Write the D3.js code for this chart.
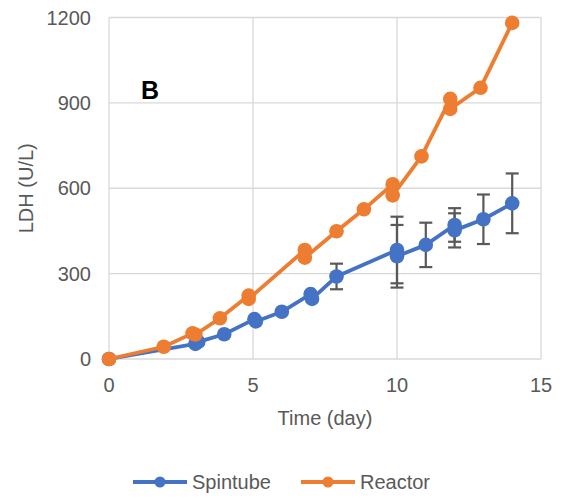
<!DOCTYPE html>
<html>
<head>
<meta charset="utf-8">
<script src="https://cdn.jsdelivr.net/npm/d3@7"></script>
<style>
  body { margin: 0; background: #fff; }
  text { font-family: "Liberation Sans", Arial, sans-serif; fill: #595959; }
</style>
</head>
<body>
<div id="chart"></div>
<script>
// data
const spinDays = [0, 3.0, 3.1, 4.0, 5.05, 5.1, 6.0, 7.0, 7.05, 7.9, 10.0, 10.0, 11.0, 12.0, 12.0, 13.0, 14.0];
const spinLDH  = [0, 53, 60, 87, 140, 132, 166, 228, 211, 290, 383, 361, 401, 471, 452, 491, 547];
const spinErr  = [0, 0, 0, 0, 0, 0, 0, 0, 0, 45, 117, 110, 78, 59, 60, 87, 105];

const reactDays = [0, 1.9, 2.9, 3.0, 3.85, 4.85, 4.85, 6.8, 6.8, 7.9, 8.85, 9.85, 9.85, 10.85, 11.85, 11.85, 12.9, 14.0];
const reactLDH  = [0, 43, 90, 86, 143, 223, 211, 383, 356, 449, 526, 614, 575, 712, 914, 879, 953, 1181];

const xTicks = [0, 5, 10, 15];
const yTicks = [0, 300, 600, 900, 1200];

const seriesNames = ['Spintube', 'Reactor'];
const colors = { Spintube: '#4472C4', Reactor: '#ED7D31' };

// layout
const W = 564, H = 499;
const plot = { left: 109, right: 541, top: 17.5, bottom: 359 };

const svg = d3.select('#chart').append('svg')
  .attr('width', W)
  .attr('height', H);

const x = d3.scaleLinear().domain([0, 15]).range([plot.left, plot.right]);
const y = d3.scaleLinear().domain([0, 1200]).range([plot.bottom, plot.top]);

// gridlines
svg.append('g').selectAll('line.gy').data(yTicks).join('line')
  .attr('x1', plot.left).attr('x2', plot.right)
  .attr('y1', d => y(d)).attr('y2', d => y(d))
  .attr('stroke', '#d9d9d9').attr('stroke-width', 1.3);

svg.append('g').selectAll('line.gx').data(xTicks).join('line')
  .attr('x1', d => x(d)).attr('x2', d => x(d))
  .attr('y1', plot.top).attr('y2', plot.bottom)
  .attr('stroke', '#d9d9d9').attr('stroke-width', 1.3);

// tick labels
svg.append('g').selectAll('text').data(yTicks).join('text')
  .attr('x', 91)
  .attr('y', d => y(d) + 7)
  .attr('text-anchor', 'end')
  .style('font-size', '20px')
  .text(d => d);

svg.append('g').selectAll('text').data(xTicks).join('text')
  .attr('x', d => x(d))
  .attr('y', 392)
  .attr('text-anchor', 'middle')
  .style('font-size', '20px')
  .text(d => d);

// axis titles
svg.append('text')
  .attr('x', (plot.left + plot.right) / 2)
  .attr('y', 425)
  .attr('text-anchor', 'middle')
  .style('font-size', '20px')
  .text('Time (day)');

svg.append('text')
  .attr('transform', `translate(33,${(plot.top + plot.bottom) / 2}) rotate(-90)`)
  .attr('text-anchor', 'middle')
  .style('font-size', '20px')
  .text('LDH (U/L)');

// panel letter
svg.append('text')
  .attr('x', 141)
  .attr('y', 99)
  .style('font-size', '25px')
  .style('font-weight', 'bold')
  .style('fill', '#000')
  .text('B');

const spin = spinDays.map((d, i) => ({ day: d, v: spinLDH[i], err: spinErr[i] }));
const react = reactDays.map((d, i) => ({ day: d, v: reactLDH[i] }));

const line = d3.line().x(d => x(d.day)).y(d => y(d.v));

// spintube
svg.append('path')
  .datum(spin)
  .attr('d', line)
  .attr('fill', 'none')
  .attr('stroke', colors.Spintube)
  .attr('stroke-width', 3.8)
  .attr('stroke-linejoin', 'round');

const eb = svg.append('g').attr('stroke', '#595959').attr('stroke-width', 2.2);
const withErr = spin.filter(d => d.err > 0);
eb.selectAll('line.v').data(withErr).join('line')
  .attr('x1', d => x(d.day)).attr('x2', d => x(d.day))
  .attr('y1', d => y(d.v + d.err)).attr('y2', d => y(d.v - d.err));
eb.selectAll('line.t').data(withErr).join('line')
  .attr('x1', d => x(d.day) - 6.5).attr('x2', d => x(d.day) + 6.5)
  .attr('y1', d => y(d.v + d.err)).attr('y2', d => y(d.v + d.err));
eb.selectAll('line.b').data(withErr).join('line')
  .attr('x1', d => x(d.day) - 6.5).attr('x2', d => x(d.day) + 6.5)
  .attr('y1', d => y(d.v - d.err)).attr('y2', d => y(d.v - d.err));

svg.append('g').selectAll('circle').data(spin).join('circle')
  .attr('cx', d => x(d.day)).attr('cy', d => y(d.v))
  .attr('r', 7.3)
  .attr('fill', colors.Spintube);

// reactor
svg.append('path')
  .datum(react)
  .attr('d', line)
  .attr('fill', 'none')
  .attr('stroke', colors.Reactor)
  .attr('stroke-width', 3.8)
  .attr('stroke-linejoin', 'round');

svg.append('g').selectAll('circle').data(react).join('circle')
  .attr('cx', d => x(d.day)).attr('cy', d => y(d.v))
  .attr('r', 7.3)
  .attr('fill', colors.Reactor);

// legend
const legend = svg.append('g');
const legX = [133, 301];
seriesNames.forEach((name, i) => {
  const lg = legend.append('g').attr('transform', `translate(${legX[i]},482)`);
  lg.append('line')
    .attr('x1', 0).attr('x2', 54)
    .attr('stroke', colors[name]).attr('stroke-width', 3.8);
  lg.append('circle')
    .attr('cx', 27).attr('r', 5.5)
    .attr('fill', colors[name]);
  lg.append('text')
    .attr('x', 59).attr('y', 7)
    .style('font-size', '20px')
    .text(name);
});
</script>
</body>
</html>
